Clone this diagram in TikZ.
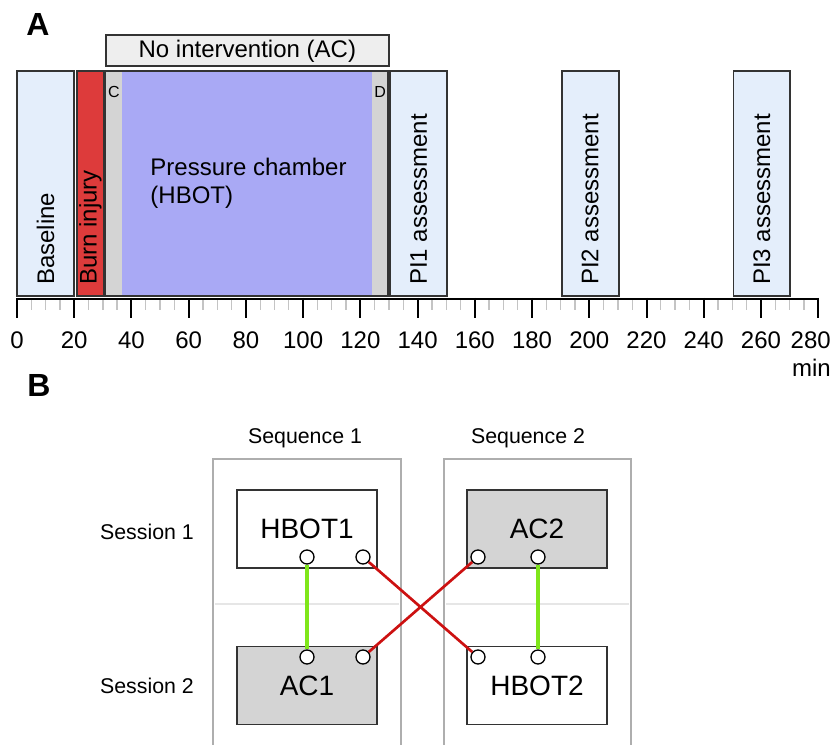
\documentclass[tikz,border=0pt]{standalone}
\usepackage{fontspec}
\setmainfont{Liberation Sans}
\definecolor{boxblau}{HTML}{E4EEFB}
\definecolor{brandrot}{HTML}{DD3B3B}
\definecolor{kammer}{HTML}{A9A9F5}
\definecolor{grau}{HTML}{D4D4D4}
\definecolor{hellgrau}{HTML}{EEEEEE}
\definecolor{rahmen}{HTML}{333333}
\definecolor{spalte}{HTML}{AEAEAE}
\definecolor{trenner}{HTML}{E6E6E6}
\definecolor{teilstrich}{HTML}{C4C4C4}
\definecolor{gruen}{HTML}{7FE61A}
\definecolor{rot}{HTML}{CC1111}
\begin{document}
\begin{tikzpicture}[x=0.75pt, y=-0.75pt,
        phase/.style={draw=rahmen, line width=1.4pt},
        text18/.style={font=\fontsize{18}{21}\selectfont},
        vtext/.style={text18, rotate=90, anchor=west, inner sep=0pt},
        text16/.style={font=\fontsize{16}{19}\selectfont},
        panel/.style={font=\fontsize{24}{28}\selectfont\bfseries},
        sitzung/.style={draw=rahmen, line width=1pt, minimum width=105pt,
            minimum height=58.5pt, font=\fontsize{21}{25}\selectfont},
        port/.style={circle, draw=black, line width=1pt, fill=white,
            minimum size=10.5pt, inner sep=0pt},
        verbindung/.style={line width=2pt}]
    \useasboundingbox (0,0) rectangle (835,745);
    % Teil A
    \node [panel] (panA) at (38,24) {A};
    \begin{scope}[shift={(17,0)}, x=2.146pt]
        % Phasen
        \draw [phase, fill=hellgrau] (31,35) rectangle (130,66);
        \node [text18] (keine) at (80.5,51) {No intervention (AC)};
        \draw [phase, fill=boxblau] (0,71) rectangle (20,296);
        \draw [phase, fill=brandrot] (21,71) rectangle (30.4,296);
        \fill [grau] (30.8,71) rectangle (36.7,296);
        \fill [kammer] (36.7,71) rectangle (124.1,296);
        \fill [grau] (124.1,71) rectangle (129.6,296);
        \draw [phase] (30.8,71) rectangle (129.6,296);
        \draw [phase, fill=boxblau] (130.4,71) rectangle (150.4,296);
        \draw [phase, fill=boxblau] (190.4,71) rectangle (210.3,296);
        \draw [phase, fill=boxblau] (250.4,71) rectangle (270.3,296);
        % Beschriftungen
        \node [vtext] (base) at (10,285) {Baseline};
        \node [vtext] (burn) at (25.7,285) {Burn injury};
        \node [vtext] (pi1) at (140.4,285) {PI1 assessment};
        \node [vtext] (pi2) at (200.3,285) {PI2 assessment};
        \node [vtext] (pi3) at (260.3,285) {PI3 assessment};
        \node [font=\fontsize{12}{14}\selectfont] (c) at (33.9,92) {C};
        \node [font=\fontsize{12}{14}\selectfont] (d) at (126.9,92) {D};
        \node [text18, anchor=west, align=left] (druck) at (45,183)
            {Pressure chamber\\(HBOT)};
        % Achse
        \foreach \m in {0,20,...,260}
            \foreach \k in {5,10,15}
                \draw [teilstrich, line width=1pt] (\m+\k,299) -- (\m+\k,310);
        \draw [line width=1.5pt] (0,299) -- (280,299);
        \foreach \m in {0,20,...,280}
            \draw [line width=1.5pt] (\m,298) -- (\m,318);
        \foreach \m in {0,20,...,260}
            \node [text18] (t\m) at (\m,340) {\m};
    \end{scope}
    \node [text18, anchor=east, inner sep=0pt] (t280) at (831,340) {280};
    \node [text18, anchor=east, inner sep=0pt] (min) at (831,368) {min};
    % Teil B
    \node [panel] (panB) at (39,385) {B};
    \node [text16] (seq1) at (305,438) {Sequence 1};
    \node [text16] (seq2) at (528,438) {Sequence 2};
    \node [text16] (ses1) at (147,532) {Session 1};
    \node [text16] (ses2) at (147,686) {Session 2};
    % Spalten
    \draw [spalte, line width=1.5pt] (213,760) -- (213,459) -- (401,459) -- (401,760);
    \draw [spalte, line width=1.5pt] (444,760) -- (444,459) -- (631,459) -- (631,760);
    \draw [trenner, line width=1.5pt] (215,604) -- (399,604);
    \draw [trenner, line width=1.5pt] (446,604) -- (629,604);
    % Sitzungen
    \node [sitzung] (hbot1) at (307,529) {HBOT1};
    \node [sitzung, fill=grau] (ac2) at (537,529) {AC2};
    \node [sitzung, fill=grau] (ac1) at (307,685.5) {AC1};
    \node [sitzung] (hbot2) at (537,685.5) {HBOT2};
    \node [port] (h1a) at (307,557) {};
    \node [port] (h1b) at (363,557) {};
    \node [port] (a1a) at (307,657) {};
    \node [port] (a1b) at (363,657) {};
    \node [port] (a2a) at (478,557) {};
    \node [port] (a2b) at (538,557) {};
    \node [port] (h2a) at (478,657) {};
    \node [port] (h2b) at (538,657) {};
    % Verbindungen
    \draw [verbindung, gruen, line width=2.4pt] (h1a) -- (a1a);
    \draw [verbindung, gruen, line width=2.4pt] (a2b) -- (h2b);
    \draw [verbindung, rot] (h1b) -- (h2a);
    \draw [verbindung, rot] (a1b) -- (a2a);
\end{tikzpicture}
\end{document}
